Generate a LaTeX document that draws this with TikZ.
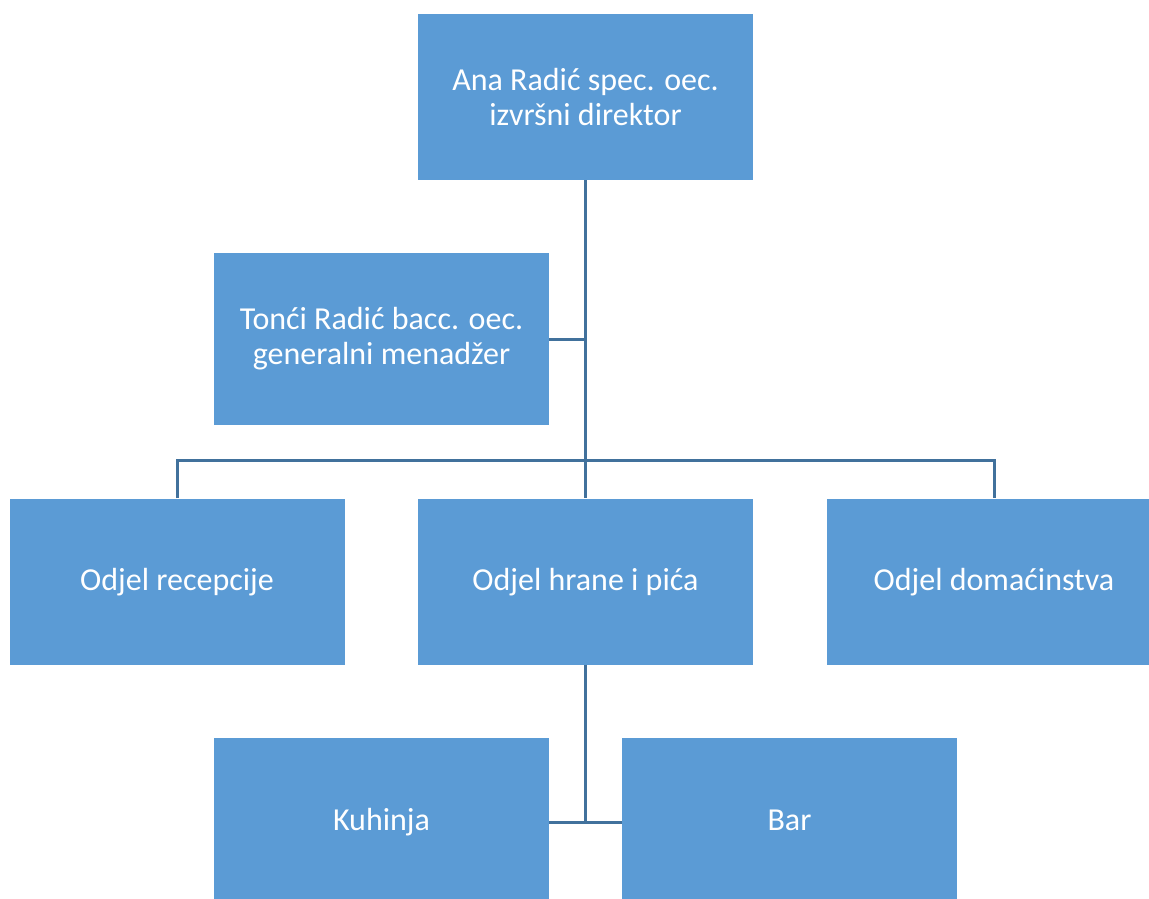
\documentclass[tikz,border=0pt]{standalone}
\usepackage{fontspec}
\setmainfont{Carlito}
\definecolor{boxblue}{HTML}{5B9BD5}
\definecolor{lineblue}{HTML}{41719C}

\begin{document}
\begin{tikzpicture}[x=1pt,y=-1pt,
		unit/.style={rectangle,fill=boxblue,text=white,align=center,inner sep=0pt,
			minimum width=335pt,minimum height=166pt,font=\fontsize{32}{35}\selectfont},
		oneline/.style={text height=24pt,text depth=7pt},
		link/.style={draw=lineblue,line width=3pt}]
		\useasboundingbox (0,0) rectangle (1149,898);

		\node[unit]                        (ana)         at (585.5,97)  {Ana Radić spec. oec.\\izvršni direktor};
		\node[unit,minimum height=172pt]   (tonci)       at (381.5,339) {Tonći Radić bacc. oec.\\generalni menadžer};
		\node[unit,oneline]                (recepcija)   at (177,581.5) {Odjel recepcije};
		\node[unit,oneline]                (hrana)       at (585.5,581.5) {Odjel hrane i pića};
		\node[unit,oneline]                (domacinstvo) at (994,581.5) {Odjel domaćinstva};
		\node[unit,oneline,minimum height=168pt] (kuhinja) at (381.5,822) {Kuhinja};
		\node[unit,oneline,minimum height=168pt] (bar)     at (789.5,822) {Bar};

		\coordinate (bus) at (585.5,460);

		\path[link] (ana) -- (hrana);
		\path[link] (tonci) -- (tonci -| ana);
		\path[link] (recepcija.north) |- (bus) -| (domacinstvo.north);
		\path[link] (hrana) -- (hrana |- kuhinja);
		\path[link] (kuhinja) -- (bar);
	\end{tikzpicture}
\end{document}
